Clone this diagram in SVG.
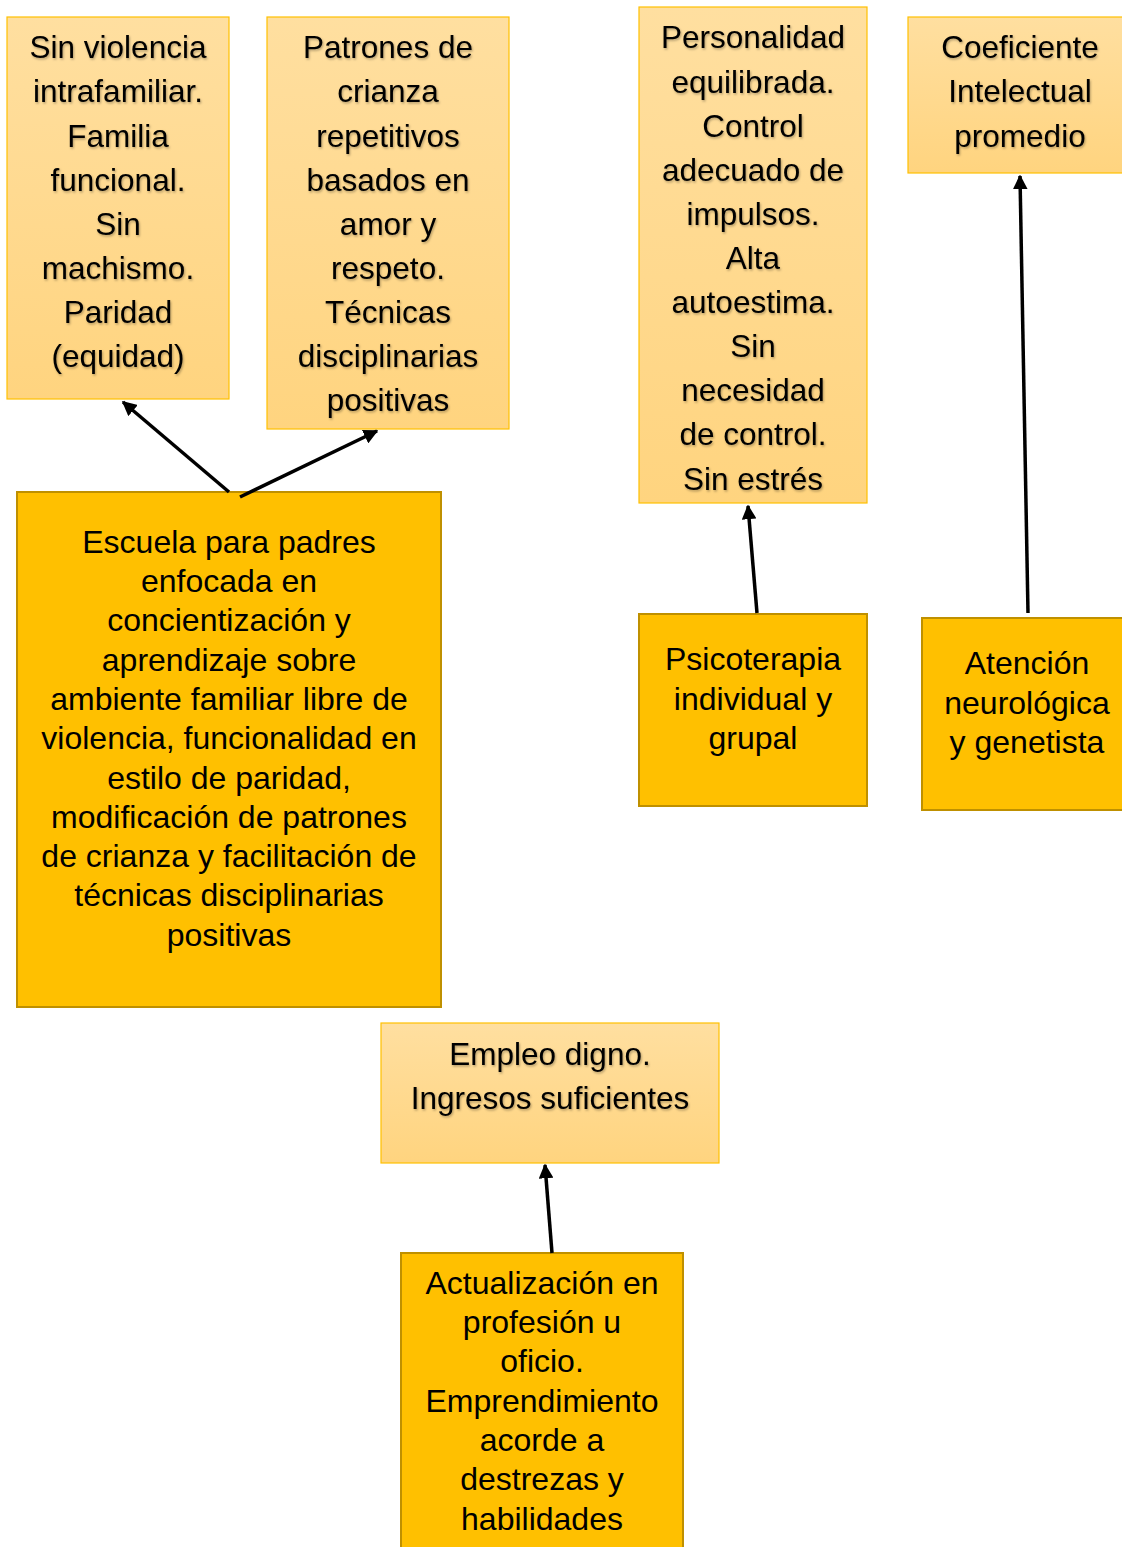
<svg xmlns="http://www.w3.org/2000/svg" width="1122" height="1547" viewBox="0 0 1122 1547">
<defs>
<linearGradient id="lg" x1="0" y1="0" x2="0" y2="1">
<stop offset="0" stop-color="#FFDFA0"/>
<stop offset="1" stop-color="#FFD47F"/>
</linearGradient>
<filter id="sh" x="-5%" y="-5%" width="110%" height="120%">
<feDropShadow dx="1" dy="1.5" stdDeviation="0.8" flood-color="#000" flood-opacity="0.3"/>
</filter>
<marker id="ah" viewBox="0 0 10 10" refX="9" refY="5" markerWidth="4.2" markerHeight="4.2" orient="auto" markerUnits="strokeWidth">
<path d="M0,0 L10,5 L0,10 z" fill="#000"/>
</marker>
<style>
.light{fill:url(#lg);stroke:#FFC000;stroke-width:1.2}
.dark{fill:#FFC000;stroke:#BF9000;stroke-width:2}
text{font-family:"Liberation Sans",Arial,sans-serif;font-size:32px;fill:#000;text-anchor:middle}
.lt{filter:url(#sh)}
.lt text{font-size:31.5px}
.conn line{stroke:#000;stroke-width:3.5;marker-end:url(#ah)}
</style>
</defs>
<rect width="1122" height="1547" fill="#fff"/>

<g id="n1">
<rect class="light" x="7" y="17" width="222" height="382"/>
<g class="lt">
<text x="118" y="58">Sin violencia</text>
<text x="118" y="102">intrafamiliar.</text>
<text x="118" y="147">Familia</text>
<text x="118" y="191">funcional.</text>
<text x="118" y="235">Sin</text>
<text x="118" y="279">machismo.</text>
<text x="118" y="323">Paridad</text>
<text x="118" y="367">(equidad)</text>
</g>
</g>

<g id="n2">
<rect class="light" x="267" y="17" width="242" height="412"/>
<g class="lt">
<text x="388" y="58">Patrones de</text>
<text x="388" y="102">crianza</text>
<text x="388" y="147">repetitivos</text>
<text x="388" y="191">basados en</text>
<text x="388" y="235">amor y</text>
<text x="388" y="279">respeto.</text>
<text x="388" y="323">Técnicas</text>
<text x="388" y="367">disciplinarias</text>
<text x="388" y="411">positivas</text>
</g>
</g>

<g id="n3">
<rect class="light" x="639" y="7" width="228" height="496"/>
<g class="lt">
<text x="753" y="48">Personalidad</text>
<text x="753" y="93">equilibrada.</text>
<text x="753" y="137">Control</text>
<text x="753" y="181">adecuado de</text>
<text x="753" y="225">impulsos.</text>
<text x="753" y="269">Alta</text>
<text x="753" y="313">autoestima.</text>
<text x="753" y="357">Sin</text>
<text x="753" y="401">necesidad</text>
<text x="753" y="445">de control.</text>
<text x="753" y="490">Sin estrés</text>
</g>
</g>

<g id="n4">
<rect class="light" x="908" y="17" width="220" height="156"/>
<g class="lt">
<text x="1020" y="58">Coeficiente</text>
<text x="1020" y="102">Intelectual</text>
<text x="1020" y="147">promedio</text>
</g>
</g>

<g id="n5">
<rect class="dark" x="17" y="492" width="424" height="515"/>
<text x="229" y="553">Escuela para padres</text>
<text x="229" y="592">enfocada en</text>
<text x="229" y="631">concientización y</text>
<text x="229" y="671">aprendizaje sobre</text>
<text x="229" y="710">ambiente familiar libre de</text>
<text x="229" y="749">violencia, funcionalidad en</text>
<text x="229" y="789">estilo de paridad,</text>
<text x="229" y="828">modificación de patrones</text>
<text x="229" y="867">de crianza y facilitación de</text>
<text x="229" y="906">técnicas disciplinarias</text>
<text x="229" y="946">positivas</text>
</g>

<g id="n6">
<rect class="dark" x="639" y="614" width="228" height="192"/>
<text x="753" y="670">Psicoterapia</text>
<text x="753" y="710">individual y</text>
<text x="753" y="749">grupal</text>
</g>

<g id="n7">
<rect class="dark" x="922" y="618" width="210" height="192"/>
<text x="1027" y="674">Atención</text>
<text x="1027" y="714">neurológica</text>
<text x="1027" y="753">y genetista</text>
</g>

<g id="n8">
<rect class="light" x="381" y="1023" width="338" height="140"/>
<g class="lt">
<text x="550" y="1065">Empleo digno.</text>
<text x="550" y="1109">Ingresos suficientes</text>
</g>
</g>

<g id="n9">
<rect class="dark" x="401" y="1253" width="282" height="310"/>
<text x="542" y="1294">Actualización en</text>
<text x="542" y="1333">profesión u</text>
<text x="542" y="1372">oficio.</text>
<text x="542" y="1412">Emprendimiento</text>
<text x="542" y="1451">acorde a</text>
<text x="542" y="1490">destrezas y</text>
<text x="542" y="1530">habilidades</text>
</g>

<g id="connectors" class="conn">
<line x1="229" y1="492" x2="123" y2="402"/>
<line x1="240" y1="497" x2="377" y2="431"/>
<line x1="757" y1="613" x2="748" y2="506"/>
<line x1="1028" y1="613" x2="1020" y2="176"/>
<line x1="552" y1="1253" x2="545" y2="1165"/>
</g>
</svg>
